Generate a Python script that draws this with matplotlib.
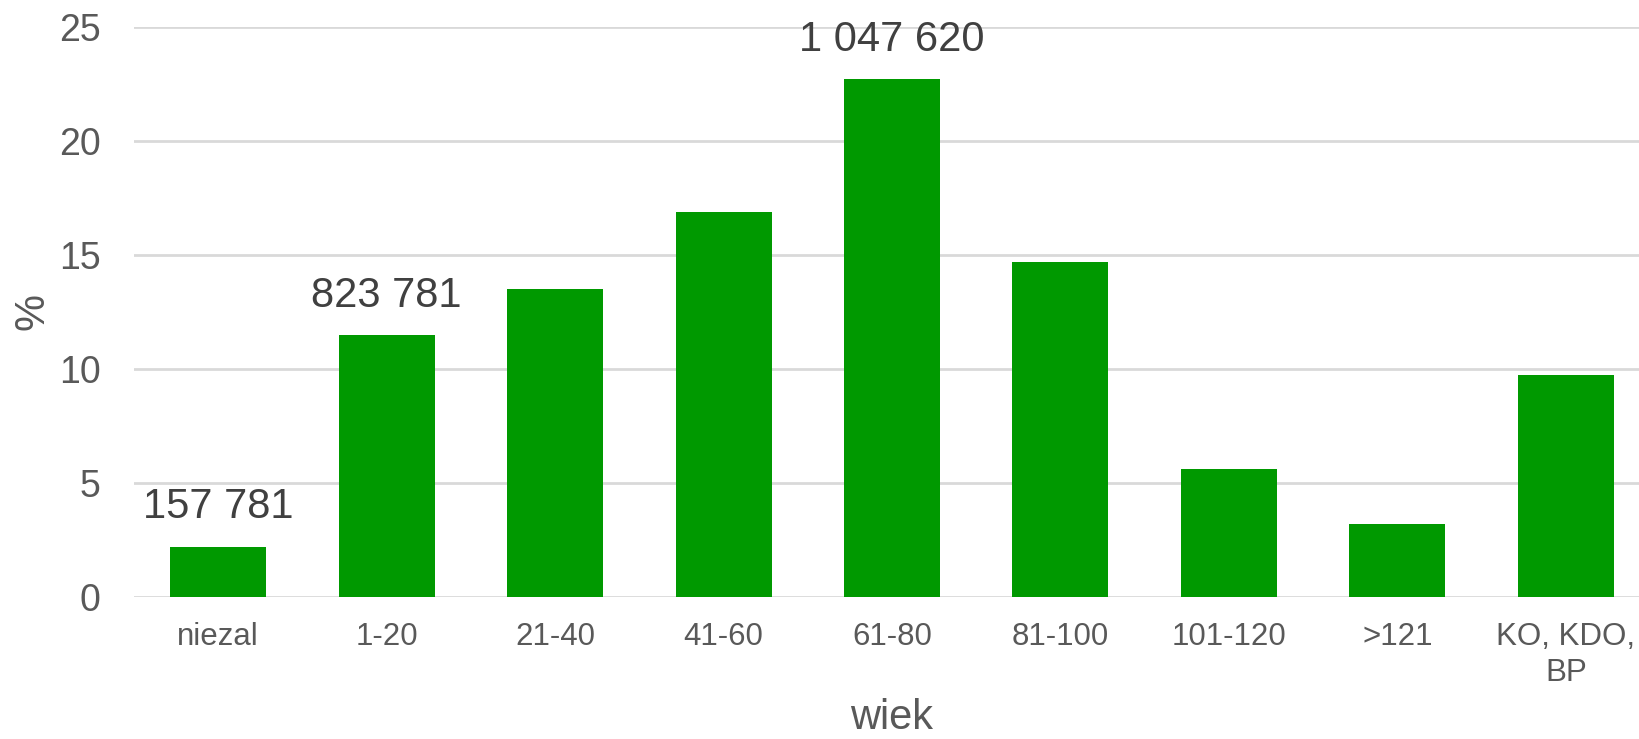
import matplotlib
matplotlib.use("Agg")
import matplotlib.pyplot as plt

plt.rcParams['font.family'] = ['Liberation Sans', 'DejaVu Sans']

kategorie = ["niezal", "1-20", "21-40", "41-60", "61-80", "81-100", "101-120", ">121", "KO, KDO,\nBP"]
procent = [2.2, 11.47, 13.49, 16.88, 22.71, 14.68, 5.6, 3.21, 9.72]
etykiety = ["157 781", "823 781", None, None, "1 047 620", None, None, None, None]

zielony = "#009900"
szary = "#595959"

fig = plt.figure(figsize=(16.4, 7.39), dpi=100)
ax = fig.add_axes([134 / 1640, 142 / 739, 1516 / 1640, 570 / 739])

x = range(len(kategorie))
bars = ax.bar(x, procent, width=0.57, color=zielony, zorder=3)

for b, lab in zip(bars, etykiety):
    if lab:
        ax.annotate(lab, (b.get_x() + b.get_width() / 2, b.get_height()),
                    xytext=(0, 14), textcoords="offset points",
                    ha="center", va="bottom", fontsize=30, color="#404040")

ax.set_xlim(-0.5, len(kategorie) - 0.5)
ax.set_ylim(0, 25)
ax.set_yticks([0, 5, 10, 15, 20, 25])
ax.set_xticks(list(x))
ax.set_xticklabels(kategorie, linespacing=1.25)
ax.yaxis.grid(True, color="#d9d9d9", linewidth=2, zorder=0)
for s in ax.spines.values():
    s.set_visible(False)
ax.tick_params(axis="y", length=0, labelsize=27, labelcolor=szary, pad=24)
ax.tick_params(axis="x", length=0, labelsize=22.5, labelcolor=szary, pad=18)

ax.set_ylabel("%", fontsize=30, color=szary)
ax.yaxis.set_label_coords(-0.054, 0.5)
ax.set_xlabel("wiek", fontsize=30, color=szary)
ax.xaxis.set_label_coords(0.5, -0.178)

fig.savefig("out.png", dpi=100)
